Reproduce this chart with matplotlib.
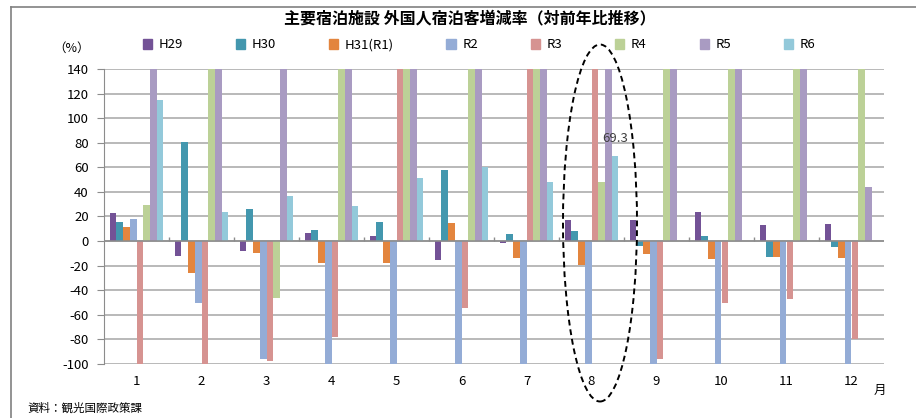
import numpy as np
import matplotlib
matplotlib.use("Agg")
import matplotlib.pyplot as plt
from matplotlib.patches import Patch, Ellipse
from matplotlib.lines import Line2D

plt.rcParams['font.family'] = ['Noto Sans CJK JP', 'DejaVu Sans']
plt.rcParams['axes.unicode_minus'] = False

nan = np.nan

months = ['1', '2', '3', '4', '5', '6', '7', '8', '9', '10', '11', '12']
series = ['H29', 'H30', 'H31(R1)', 'R2', 'R3', 'R4', 'R5', 'R6']

# values in %, values above 140 run off the top of the axis
h29 = [23.1, -11.9, -7.9, 6.5, 3.8, -15.5, -1.9, 16.8, 16.8, 23.6, 12.8, 13.6]
h30 = [15.7, 80.3, 25.8, 9.2, 15.2, 57.8, 5.4, 8.1, -4.1, 4.3, -12.8, -4.6]
h31 = [11.1, -26.3, -10.0, -17.6, -18.2, 14.6, -13.6, -19.5, -10.9, -14.4, -13.3, -13.8]
r2 = [18.0, -50.2, -96.3, -99.8, -99.8, -99.8, -99.8, -99.8, -99.8, -99.8, -99.8, -99.8]
r3 = [-99.8, -99.8, -97.4, -77.9, 250.0, -54.8, 210.0, 180.0, -96.3, -50.5, -47.2, -80.0]
r4 = [29.6, 300.0, -46.1, 900.0, 1200.0, 800.0, 500.0, 48.0, 1500.0, 2500.0, 3000.0, 2000.0]
r5 = [1500.0, 900.0, 1300.0, 1700.0, 1400.0, 1000.0, 600.0, 700.0, 500.0, 400.0, 250.0, 43.7]
r6 = [115.0, 23.9, 36.9, 28.2, 51.3, 60.0, 48.0, 69.3, nan, nan, nan, nan]

colors = ['#735296', '#4397AE', '#E3853E', '#94ACD6', '#D69391', '#BCD197', '#A99BC2', '#93C9DA']

data = [h29, h30, h31, r2, r3, r4, r5, r6]

fig = plt.figure(figsize=(9.16, 4.18), dpi=100)
ax = fig.add_axes([104/916, 1 - 364/418, 780/916, 295/418])

x = np.arange(len(months))
w = 0.103
n = len(series)
for i, (vals, c) in enumerate(zip(data, colors)):
    ax.bar(x + (i - (n - 1) / 2) * w, vals, width=w, color=c, zorder=3)

ax.set_ylim(-100, 140)
ax.set_xlim(-0.5, len(months) - 0.5)
ax.set_yticks(np.arange(-100, 141, 20))
ax.yaxis.grid(True, color='#A6A6A6', lw=1.1, zorder=0)
ax.set_axisbelow(True)
for s in ['top', 'right', 'bottom']:
    ax.spines[s].set_visible(False)
ax.spines['left'].set_color('#8C8C8C')
ax.tick_params(axis='y', length=5, color='#8C8C8C', labelsize=9.5, pad=6)
ax.tick_params(axis='x', length=0, labelsize=9.5, pad=8)
ax.set_xticks(x)
ax.set_xticklabels(months)

# zero line with small ticks at category boundaries
ax.axhline(0, color='#8C8C8C', lw=1.1, zorder=4)
ax.vlines(np.arange(0.5, len(months) - 0.5, 1), 0, 3, color='#8C8C8C', lw=1, zorder=4)

# data label for R6 in August
ax.annotate('69.3', (7 + 3.5 * w, r6[7]), xytext=(0, 8), textcoords='offset points',
            ha='center', va='bottom', fontsize=9.5, color='#404040')

handles = [Patch(color=c) for c in colors]
fig.legend(handles, series, loc='center left', bbox_to_anchor=(131/916, 1 - 45/418),
           ncol=8, frameon=False, fontsize=9.5, handlelength=0.7, handleheight=0.7,
           handletextpad=0.5, columnspacing=4.0)

fig.text(470/916, 1 - 18/418, '主要宿泊施設 外国人宿泊客増減率（対前年比推移）',
         ha='center', va='center', fontsize=11.5, fontweight='bold')
fig.text(72/916, 1 - 48/418, '（%）', ha='center', va='center', fontsize=9)
fig.text(880/916, 1 - 390/418, '月', ha='center', va='center', fontsize=9)
fig.text(27/916, 1 - 408/418, '資料：観光国際政策課', ha='left', va='center', fontsize=8.3)

# dashed ellipse around August
fig.add_artist(Ellipse((600/916, 1 - 223/418), 74/916, 357/418, transform=fig.transFigure,
                       fill=False, ls=(0, (3, 2)), lw=1.4, color='black'))

# outer frame
fig.add_artist(Line2D([11/916, 1], [1 - 7/418, 1 - 7/418], color='#808080', lw=1.2))
fig.add_artist(Line2D([11/916, 11/916], [0, 1 - 7/418], color='#808080', lw=1.2))

fig.savefig('out.png', dpi=100)
